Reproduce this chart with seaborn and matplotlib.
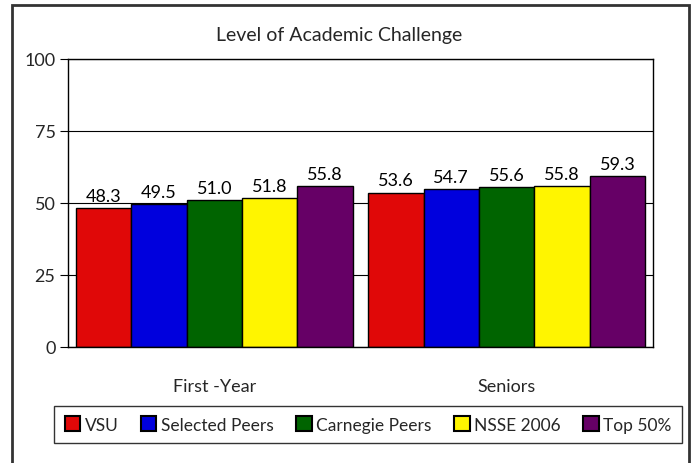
import matplotlib
matplotlib.use("Agg")
import matplotlib.pyplot as plt
import seaborn as sns
import pandas as pd
from matplotlib.patches import Rectangle

groups = ["First -Year", "Seniors"]
series = ["VSU", "Selected Peers", "Carnegie Peers", "NSSE 2006", "Top 50%"]
first_year = [48.3, 49.5, 51.0, 51.8, 55.8]
seniors = [53.6, 54.7, 55.6, 55.8, 59.3]
colors = ["#E00808", "#0000DD", "#006400", "#FFF500", "#660066"]
yticks = [0, 25, 50, 75, 100]

rows = []
for s, a, b in zip(series, first_year, seniors):
    rows.append({"group": groups[0], "series": s, "value": a})
    rows.append({"group": groups[1], "series": s, "value": b})
df = pd.DataFrame(rows)

sns.set_theme(style="white")
plt.rcParams["font.family"] = ["Lato", "DejaVu Sans"]

fig = plt.figure(figsize=(6.93, 4.64), dpi=100)
ax = fig.add_axes([68 / 693, 1 - 348 / 464, (653 - 68) / 693, (348 - 60) / 464])

sns.barplot(data=df, x="group", y="value", hue="series", order=groups,
            hue_order=series, palette=colors, width=0.947, gap=0,
            edgecolor="black", linewidth=1.0, saturation=1, ax=ax,
            legend=True)

for c in ax.containers:
    ax.bar_label(c, fmt="%.1f", padding=3, fontsize=13, color="black")

ax.set_xlim(-0.5, 1.5)
ax.set_ylim(0, 100)
ax.set_yticks(yticks)
ax.set_yticklabels([str(t) for t in yticks], fontsize=13)
ax.yaxis.grid(True, color="black", linewidth=0.8)
ax.set_axisbelow(True)
ax.set_xlabel("")
ax.set_ylabel("")
ax.set_xticks([0, 1])
ax.set_xticklabels(groups, fontsize=13)
ax.tick_params(axis="x", which="major", length=0, pad=22)
ax.set_xticks([-0.5, 0.5, 1.5], minor=True)
ax.tick_params(axis="x", which="minor", length=7, width=0.8, color="black", direction="out")
ax.tick_params(axis="y", length=6, width=0.8, color="black", direction="out", left=True, pad=3)
for sp in ax.spines.values():
    sp.set_visible(True)
    sp.set_color("black")
    sp.set_linewidth(1.0)

fig.text(339 / 693, 1 - 35 / 464, "Level of Academic Challenge", fontsize=14,
         ha="center", va="center")

handles, labels = ax.get_legend_handles_labels()
ax.get_legend().remove()
leg = fig.legend(handles, labels, loc="center", bbox_to_anchor=(368 / 693, 1 - 425.5 / 464),
                 ncol=5, frameon=True, fontsize=12.5, handlelength=0.9, handleheight=0.9,
                 handletextpad=0.25, columnspacing=1.3, borderpad=0.62, borderaxespad=0,
                 fancybox=False)
leg.get_frame().set_edgecolor("black")
leg.get_frame().set_linewidth(1.0)
for h in leg.legend_handles:
    h.set_edgecolor("black")
    h.set_linewidth(1.5)

fig.patches.append(Rectangle((12 / 693, -0.05), (689 - 12) / 693, 1.05 - 5.5 / 464,
                             transform=fig.transFigure, fill=False,
                             edgecolor="#333333", linewidth=2.0))

fig.savefig("out.png", dpi=100)
